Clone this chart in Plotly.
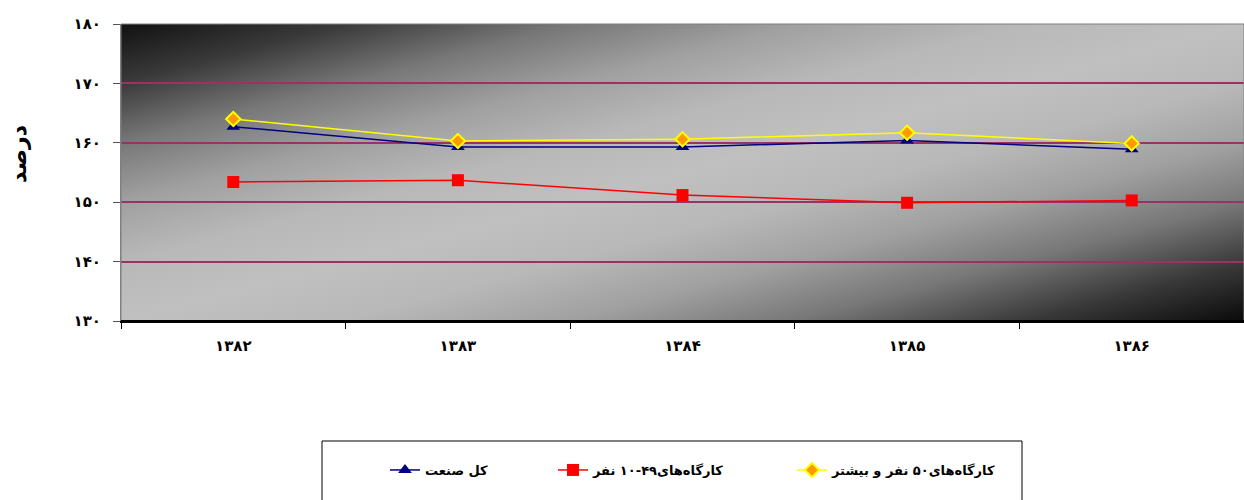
import base64
import plotly.graph_objects as go

years = ["۱۳۸۲", "۱۳۸۳", "۱۳۸۴", "۱۳۸۵", "۱۳۸۶"]
total_industry = [162.7, 159.3, 159.3, 160.4, 158.9]
small_workshops = [153.4, 153.7, 151.2, 149.9, 150.3]
large_workshops = [164.0, 160.3, 160.6, 161.7, 159.9]

y_tickvals = [130, 140, 150, 160, 170, 180]
y_ticktext = ["۱۳۰", "۱۴۰", "۱۵۰", "۱۶۰", "۱۷۰", "۱۸۰"]

name_total = "کل صنعت"
name_small = "کارگاه‌های۴۹-۱۰ نفر"
name_large = "کارگاه‌های۵۰ نفر و بیشتر"
y_title = "درصد"

FONT = "DejaVu Sans"

# gradient background for the plot area
svg = (
    '<svg xmlns="http://www.w3.org/2000/svg" width="100" height="100" '
    'viewBox="0 0 100 100" preserveAspectRatio="none">'
    '<defs><linearGradient id="g" x1="0" y1="0" x2="1" y2="1">'
    '<stop offset="0" stop-color="#111111"/>'
    '<stop offset="0.1" stop-color="#3a3a3a"/>'
    '<stop offset="0.2" stop-color="#777777"/>'
    '<stop offset="0.3" stop-color="#a0a0a0"/>'
    '<stop offset="0.4" stop-color="#b8b8b8"/>'
    '<stop offset="0.5" stop-color="#c0c0c0"/>'
    '<stop offset="0.6" stop-color="#b8b8b8"/>'
    '<stop offset="0.7" stop-color="#a0a0a0"/>'
    '<stop offset="0.8" stop-color="#777777"/>'
    '<stop offset="0.9" stop-color="#3a3a3a"/>'
    '<stop offset="1" stop-color="#0a0a0a"/>'
    '</linearGradient></defs>'
    '<rect x="0" y="0" width="100" height="100" fill="url(#g)"/></svg>'
)
bg_uri = "data:image/svg+xml;base64," + base64.b64encode(svg.encode()).decode()

fig = go.Figure()
fig.add_trace(go.Scatter(
    x=years, y=total_industry, name=name_total, mode="lines+markers",
    line=dict(color="#000080", width=1.5),
    marker=dict(symbol="triangle-up", size=12, color="#000080"),
    legend="legend",
))
fig.add_trace(go.Scatter(
    x=years, y=small_workshops, name=name_small, mode="lines+markers",
    line=dict(color="#ff0000", width=1.5),
    marker=dict(symbol="square", size=12, color="#ff0000"),
    legend="legend2",
))
fig.add_trace(go.Scatter(
    x=years, y=large_workshops, name=name_large, mode="lines+markers",
    line=dict(color="#ffff00", width=1.5),
    marker=dict(symbol="diamond", size=11, color="#ff9900",
                line=dict(color="#ffff00", width=2)),
    legend="legend3",
))

L, T, B = 121, 24, 179
W, H = 1244, 500
pw, ph = W - L, H - T - B


def px_x(p):
    return (p - L) / pw


def px_y(p):
    return (H - B - p) / ph


legend_common = dict(
    orientation="h", xanchor="left", yanchor="middle",
    bgcolor="rgba(0,0,0,0)", borderwidth=0,
    font=dict(family=FONT, size=13, color="black", weight="bold"),
)

fig.update_layout(
    width=W, height=H,
    margin=dict(l=L, r=0, t=T, b=B),
    paper_bgcolor="white",
    plot_bgcolor="rgba(0,0,0,0)",
    showlegend=True,
    legend=dict(x=px_x(385), y=px_y(470), **legend_common),
    legend2=dict(x=px_x(553), y=px_y(470), **legend_common),
    legend3=dict(x=px_x(792), y=px_y(470), **legend_common),
    images=[dict(source=bg_uri, xref="paper", yref="paper", x=0, y=1,
                 sizex=1, sizey=1, sizing="stretch", layer="below",
                 xanchor="left", yanchor="top")],
    xaxis=dict(
        type="category", range=[-0.5, 4.5], tickson="boundaries",
        ticks="outside", ticklen=6,
        tickcolor="black", showline=True, linecolor="black", linewidth=2,
        showgrid=False, zeroline=False, ticklabelstandoff=10,
        tickfont=dict(family=FONT, size=15, color="black", weight="bold"),
    ),
    yaxis=dict(
        range=[130, 180], tickmode="array", tickvals=y_tickvals,
        ticktext=y_ticktext, ticks="outside", ticklen=7, tickcolor="#555555",
        showline=True, linecolor="#808080", linewidth=1,
        showgrid=True, gridcolor="#993366", gridwidth=2, zeroline=False,
        ticklabelstandoff=9,
        tickfont=dict(family=FONT, size=15, color="black", weight="bold"),
    ),
    shapes=[
        dict(type="rect", xref="paper", yref="paper", x0=0, y0=0, x1=1, y1=1,
             line=dict(color="#808080", width=1), layer="above"),
        dict(type="line", xref="paper", yref="paper", x0=0, y0=0, x1=1, y1=0,
             line=dict(color="black", width=2), layer="above"),
        dict(type="rect", xref="paper", yref="paper",
             x0=px_x(322), x1=px_x(1022), y0=px_y(441), y1=px_y(512),
             line=dict(color="black", width=1), layer="above"),
    ],
    annotations=[dict(
        text=y_title, xref="paper", yref="paper", x=px_x(18), y=px_y(154),
        xanchor="center", yanchor="middle", textangle=-90, showarrow=False,
        font=dict(family=FONT, size=22, color="black", weight="bold"),
    )],
)

fig.write_html("out.html")
